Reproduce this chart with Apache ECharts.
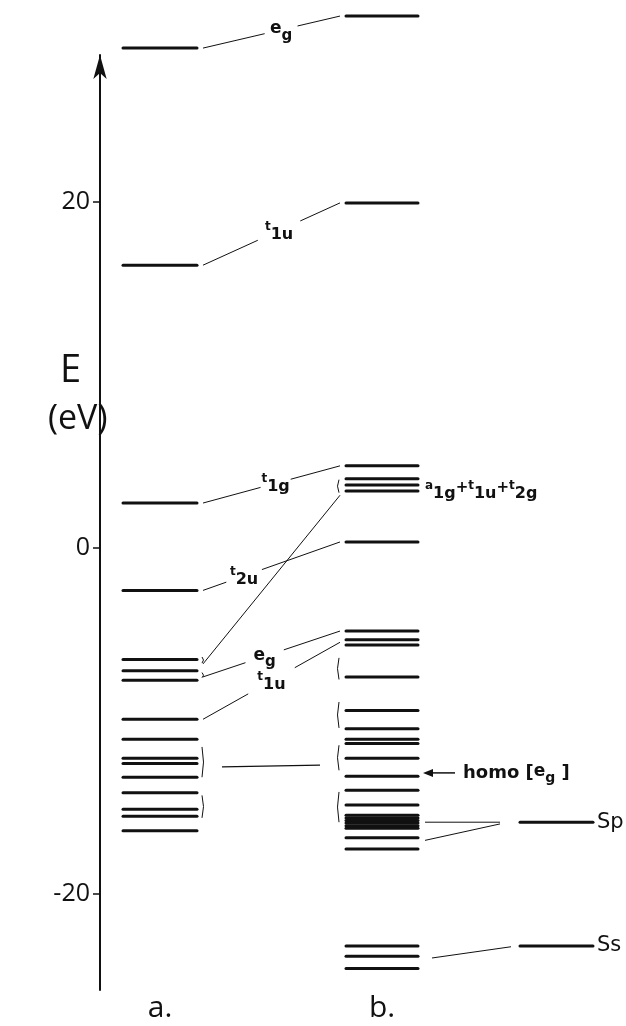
<!DOCTYPE html>
<html><head><meta charset="utf-8">
<script src="https://cdn.jsdelivr.net/npm/echarts@6/dist/echarts.min.js"></script>
<style>html,body{margin:0;padding:0;background:#fff}#c{width:626px;height:1026px}</style>
</head><body><div id="c"></div>
<script>
// ---- data (energies in eV) ----
const LEVELS_A = [28.9, 16.35, 2.6, -2.45, -6.45, -7.1, -7.65, -9.9, -11.05, -12.15, -12.45, -13.25, -14.15, -15.1, -15.5, -16.35];
const LEVELS_B = [30.75, 19.95, 4.75, 4.0, 3.65, 3.3, 0.35, -4.8, -5.3, -5.6, -7.45, -9.4, -10.45, -11.05, -11.3, -12.15, -13.2, -14.0, -14.85,
                  -15.45, -15.6, -15.75, -15.9, -16.05, -16.2, -16.75, -17.4, -23.0, -23.6, -24.3];
const ATOM_LEVELS = [-15.85, -23.0];
const ATOM_LABELS = ['Sp', 'Ss'];
const COLUMN_LABELS = ['a.', 'b.'];
const Y_TICKS = [-20, 0, 20];
// correlation lines a -> b : [label, E(a), E(b)]
const CORRELATIONS = [
  ['eg', 28.9, 30.75],
  ['t1u', 16.35, 19.95],
  ['t1g', 2.6, 4.75],
  ['t2u', -2.45, 0.35],
  ['', -6.7, 3.05],
  ['eg', -7.45, -4.8],
  ['t1u', -9.9, -5.45]
];
const HOMO_LINK = [-12.65, -12.55];
// b -> atomic levels : [E(b), E(atom)]
const ATOM_LINKS = [[-15.85, -15.85], [-16.9, -15.95], [-23.7, -23.05]];
// brackets : [column, E top, E bottom]
const BRACKETS = [['a', -6.3, -6.65], ['a', -7.2, -7.5], ['a', -11.5, -13.25], ['a', -14.3, -15.6],
                  ['b', 3.95, 3.2], ['b', -6.35, -7.6], ['b', -8.9, -10.4], ['b', -11.4, -12.85], ['b', -14.1, -15.85]];
const HOMO_LEVEL = -13.0;
const HOMO_TEXT = 'homo [';
const GROUP_LABEL = ['a1g', '+', 't1u', '+', 't2g'];
const GROUP_LABEL_E = 3.3;
const AXIS_NAME = ['E', '(eV)'];

// ---- layout ----
const X_A = [23, 97], X_B = [246, 318], X_C = [420, 493];
const LABEL_POS = [[0.57, 0.12], [0.555, 0.155], [0.53, 0.11], [0.30, 0.13], null, [0.45, 0.14], [0.5, 0.17]];
const FONT = 'DejaVu Sans';
const INK = '#111';

const mctx = document.createElement('canvas').getContext('2d');
function fontStr(size, bold) { return (bold ? 'bold ' : '') + size + 'px "' + FONT + '"'; }
function measure(t, size, bold) { mctx.font = fontStr(size, bold); return mctx.measureText(t).width; }
// symmetry label parts: e -> e + sub, t/a -> small raised letter + sub
function symParts(lbl) {
  const head = lbl[0], sub = lbl.slice(1);
  if (head === 'e') return [{t: 'e', s: 17, dy: -2}, {t: sub, s: 15, dy: 5}];
  return [{t: head, s: 12, dy: -5}, {t: sub, s: 16, dy: 3}];
}
function buildText(parts, x, y, align) {
  parts.forEach(p => { p.w = measure(p.t, p.s, p.b !== false); });
  const total = parts.reduce((a, p) => a + p.w, 0);
  let cx = align === 'center' ? x - total / 2 : x;
  return parts.map(p => {
    const el = {type: 'text', x: cx, y: y + p.dy,
      style: {text: p.t, font: fontStr(p.s, p.b !== false), fill: INK, align: 'left', verticalAlign: 'middle'}};
    cx += p.w;
    return el;
  });
}

function levelSeries(levels, xr) {
  return {
    type: 'custom', clip: false, silent: true, z: 3,
    data: levels.map(e => [xr[0], e]),
    renderItem(params, api) {
      const e = api.value(1);
      const p1 = api.coord([xr[0], e]), p2 = api.coord([xr[1], e]);
      return {type: 'line', shape: {x1: p1[0], y1: p1[1], x2: p2[0], y2: p2[1]},
              style: {stroke: INK, lineWidth: 3, lineCap: 'round'}};
    }
  };
}

const series = [
  levelSeries(LEVELS_A, X_A),
  levelSeries(LEVELS_B, X_B),
  levelSeries(ATOM_LEVELS, X_C),
  { // correlation lines with labels
    type: 'custom', clip: false, silent: true,
    data: CORRELATIONS.map((c, i) => [i, c[1], c[2]]),
    renderItem(params, api) {
      const i = api.value(0);
      const lbl = CORRELATIONS[i][0];
      const p1 = api.coord([X_A[1] + 6, api.value(1)]);
      const p2 = api.coord([X_B[0] - 6, api.value(2)]);
      const at = t => [p1[0] + (p2[0] - p1[0]) * t, p1[1] + (p2[1] - p1[1]) * t];
      const lp = LABEL_POS[i];
      let children = [];
      if (!lp) {
        children.push({type: 'line', shape: {x1: p1[0], y1: p1[1], x2: p2[0], y2: p2[1]}, style: {stroke: INK, lineWidth: 1}});
      } else {
        const a = at(lp[0] - lp[1]), b = at(lp[0] + lp[1]), c = at(lp[0]);
        children.push({type: 'line', shape: {x1: p1[0], y1: p1[1], x2: a[0], y2: a[1]}, style: {stroke: INK, lineWidth: 1}});
        children.push({type: 'line', shape: {x1: b[0], y1: b[1], x2: p2[0], y2: p2[1]}, style: {stroke: INK, lineWidth: 1}});
        children = children.concat(buildText(symParts(lbl), c[0], c[1] + 1, 'center'));
      }
      return {type: 'group', children};
    }
  },
  { // homo bracket link
    type: 'custom', clip: false, silent: true,
    data: [HOMO_LINK],
    renderItem(params, api) {
      const p1 = api.coord([X_A[1] + 25, api.value(0)]), p2 = api.coord([X_B[0] - 26, api.value(1)]);
      return {type: 'line', shape: {x1: p1[0], y1: p1[1], x2: p2[0], y2: p2[1]}, style: {stroke: INK, lineWidth: 1.2}};
    }
  },
  { // b -> atomic links
    type: 'custom', clip: false, silent: true,
    data: ATOM_LINKS,
    renderItem(params, api) {
      const ss = api.value(0) < -20;
      const p1 = api.coord([X_B[1] + (ss ? 14 : 7), api.value(0)]);
      const p2 = api.coord([X_C[0] - (ss ? 9 : 20), api.value(1)]);
      return {type: 'line', shape: {x1: p1[0], y1: p1[1], x2: p2[0], y2: p2[1]}, style: {stroke: INK, lineWidth: 1}};
    }
  },
  { // brackets
    type: 'custom', clip: false, silent: true,
    data: BRACKETS.map(b => [b[0] === 'a' ? 0 : 1, b[1], b[2]]),
    renderItem(params, api) {
      const isA = api.value(0) === 0;
      const x = isA ? X_A[1] + 5 : X_B[0] - 7;
      const p1 = api.coord([x, api.value(1)]), p2 = api.coord([x, api.value(2)]);
      const bulge = isA ? 3 : -3;
      return {type: 'bezierCurve', shape: {x1: p1[0], y1: p1[1], x2: p2[0], y2: p2[1],
              cpx1: p1[0] + bulge, cpy1: (p1[1] + p2[1]) / 2}, style: {stroke: INK, lineWidth: 1, fill: null}};
    }
  },
  { // homo arrow + text
    type: 'custom', clip: false, silent: true,
    data: [[X_B[1], HOMO_LEVEL]],
    renderItem(params, api) {
      const p = api.coord([X_B[1] + 5, api.value(1)]);
      const q = api.coord([X_B[1] + 37, api.value(1)]);
      const txt = buildText([{t: HOMO_TEXT, s: 18, dy: 0}, {t: 'e', s: 17, dy: -1}, {t: 'g', s: 14, dy: 5}, {t: ' ]', s: 18, dy: 0}],
                            q[0] + 8, q[1], 'left');
      return {type: 'group', children: [
        {type: 'line', shape: {x1: p[0] + 8, y1: p[1], x2: q[0], y2: q[1]}, style: {stroke: INK, lineWidth: 1.5}},
        {type: 'polygon', shape: {points: [[p[0], p[1]], [p[0] + 10, p[1] - 4], [p[0] + 10, p[1] + 4]]}, style: {fill: INK}}
      ].concat(txt)};
    }
  },
  { // group label a1g+t1u+t2g
    type: 'custom', clip: false, silent: true,
    data: [[X_B[1], GROUP_LABEL_E]],
    renderItem(params, api) {
      const p = api.coord([X_B[1] + 7, api.value(1)]);
      let parts = [];
      GROUP_LABEL.forEach(g => {
        if (g === '+') parts.push({t: '+', s: 15, dy: -3});
        else parts = parts.concat(symParts(g));
      });
      return {type: 'group', children: buildText(parts, p[0], p[1], 'left')};
    }
  },
  { // atomic labels
    type: 'custom', clip: false, silent: true,
    data: ATOM_LEVELS.map((e, i) => [i, e]),
    renderItem(params, api) {
      const p = api.coord([X_C[1] + 4, api.value(1)]);
      return {type: 'text', x: p[0], y: p[1],
        style: {text: ATOM_LABELS[api.value(0)], fontSize: 21, fontFamily: FONT, fill: INK, align: 'left', verticalAlign: 'middle'}};
    }
  },
  { // column labels
    type: 'custom', clip: false, silent: true,
    data: COLUMN_LABELS.map((c, i) => [i, -26.6]),
    renderItem(params, api) {
      const xr = api.value(0) === 0 ? X_A : X_B;
      const p = api.coord([(xr[0] + xr[1]) / 2, api.value(1)]);
      return {type: 'text', x: p[0], y: p[1],
        style: {text: COLUMN_LABELS[api.value(0)], fontSize: 30, fontFamily: 'Open Sans', fontWeight: 400, fill: INK, align: 'center', verticalAlign: 'middle'}};
    }
  }
];

const chart = echarts.init(document.getElementById('c'), null, {renderer: 'canvas'});
chart.setOption({
  animation: false,
  backgroundColor: '#fff',
  grid: {left: 100, right: 0, top: 55, bottom: 36},
  xAxis: {type: 'value', min: 0, max: 526, show: false},
  yAxis: {
    type: 'value', min: -25.55, max: 28.5,
    splitLine: {show: false},
    axisLine: {show: true, symbol: ['none', 'arrow'], symbolSize: [10, 24], symbolOffset: [0, 0], lineStyle: {color: INK, width: 2}},
    axisTick: {show: true, customValues: Y_TICKS, length: 7, lineStyle: {color: INK, width: 1.5}},
    axisLabel: {customValues: Y_TICKS, fontSize: 25, fontFamily: 'Open Sans', fontWeight: 400, color: INK, margin: 10}
  },
  graphic: [
    {type: 'text', left: 60, top: 352, style: {text: AXIS_NAME[0], fontSize: 38, fontFamily: 'Open Sans', fontWeight: 400, fill: INK}},
    {type: 'text', left: 48, top: 402, style: {text: AXIS_NAME[1], fontSize: 34, fontFamily: 'Open Sans', fontWeight: 400, fill: INK}}
  ],
  series
});
</script></body></html>
